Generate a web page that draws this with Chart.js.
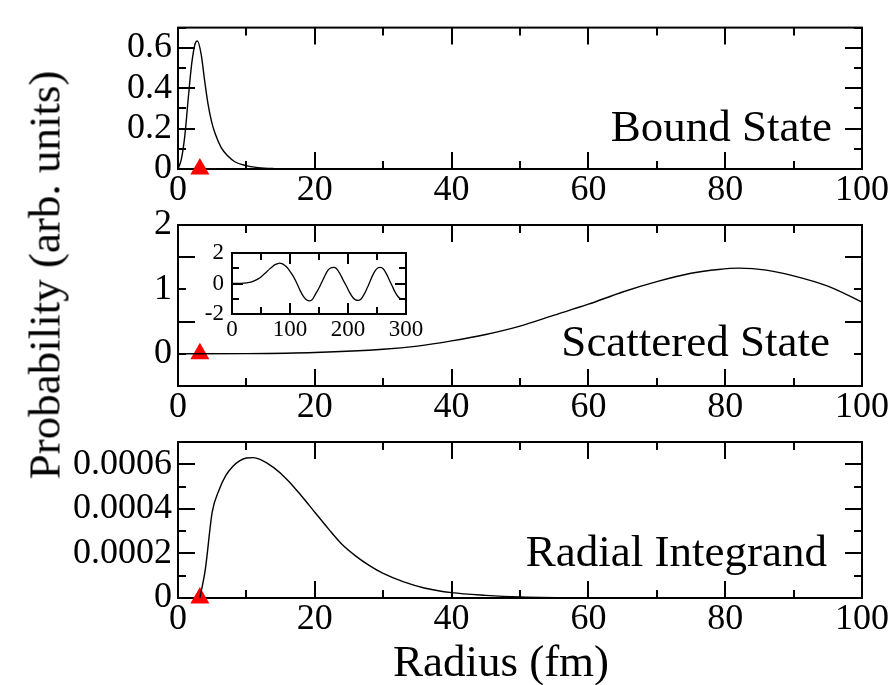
<!DOCTYPE html>
<html><head><meta charset="utf-8">
<script src="https://cdn.jsdelivr.net/npm/chart.js@4.4.1/dist/chart.umd.min.js"></script>
<style>
html,body{margin:0;padding:0;background:#fff;}
#wrap{position:relative;width:895px;height:685px;overflow:hidden;font-family:'Liberation Serif','Times New Roman',serif;color:#000;background:#fff;}
canvas{position:absolute;}
.lbl{position:absolute;font-size:45px;line-height:45px;white-space:nowrap;}
</style></head><body>
<div id="wrap">
<canvas id="c1" width="895" height="215" style="left:0;top:0"></canvas>
<canvas id="c2" width="895" height="245" style="left:0;top:185px"></canvas>
<canvas id="c3" width="895" height="285" style="left:0;top:400px"></canvas>
<canvas id="c4" width="250" height="120" style="left:180px;top:230px"></canvas>
<div class="lbl" style="right:63px;top:104px">Bound State</div>
<div class="lbl" style="right:65px;top:319px">Scattered State</div>
<div class="lbl" style="right:68px;top:529px">Radial Integrand</div>
<div class="lbl" style="left:501px;top:639px;transform:translateX(-50%)">Radius (fm)</div>
<div class="lbl" style="left:45px;top:275px;transform:translate(-50%,-50%) rotate(-90deg)">Probability (arb. units)</div>
</div>
<script>
// ---- data ----
const xTicks = [0, 20, 40, 60, 80, 100];
const boundYTicks = [0, 0.2, 0.4, 0.6];
const scatYTicks = [0, 1, 2];
const radYTicks = [0, 0.0002, 0.0004, 0.0006];
const insetXTicks = [0, 100, 200, 300];
const insetYTicks = [-2, 0, 2];

const boundR = [0, 0.5, 1, 1.5, 2, 2.5, 2.85, 3.4, 3.9, 4.4, 4.9, 5.4, 6.3, 7.3, 8.3, 9.8, 11.7, 14, 17, 20, 25, 100];
const boundP = [0, 0.05, 0.165, 0.35, 0.52, 0.62, 0.634, 0.565, 0.436, 0.32, 0.236, 0.178, 0.107, 0.064, 0.036, 0.018, 0.007, 0.002, 0.0005, 0, 0, 0];

const scatR = [0, 10, 20, 30, 35, 40, 45, 50, 55, 60, 65, 70, 75, 79, 82, 86, 90, 95, 100, 106, 112, 118, 124, 129, 134, 139, 144, 150, 155, 160, 165, 170, 175, 180, 186, 192, 197, 203, 208, 213, 218, 223, 228, 233, 237, 242, 247, 252, 256, 261, 266, 271, 276, 281, 286, 291, 295, 297];
const scatP = [0, 0.003, 0.02, 0.07, 0.12, 0.2, 0.3, 0.43, 0.6, 0.77, 0.96, 1.12, 1.25, 1.31, 1.33, 1.3, 1.21, 1.05, 0.8, 0.45, 0, -0.5, -0.9, -1.08, -1.14, -1.02, -0.7, -0.3, 0.1, 0.5, 0.85, 1.02, 1.06, 0.98, 0.65, 0.2, -0.15, -0.6, -0.9, -1.07, -1.1, -1.0, -0.7, -0.3, 0.05, 0.5, 0.85, 1.03, 1.06, 0.95, 0.65, 0.25, -0.15, -0.55, -0.85, -1.0, -1.03, -1.02];

const radR = [3.2, 4, 5, 6, 7, 8, 9, 10, 11, 12, 14, 16, 18, 20, 22, 24, 26, 28, 30, 33, 36, 40, 45, 50, 60, 80, 100];
const radP = [0, 0.00013, 0.000385, 0.000485, 0.00055, 0.00059, 0.000615, 0.000628, 0.00063, 0.000622, 0.000585, 0.00053, 0.00046, 0.000385, 0.00031, 0.00024, 0.000188, 0.000145, 0.00011, 0.000072, 0.000045, 0.000024, 0.000012, 0.000005, 0.000001, 0, 0];

const markerR = [3.2];
const markerP = [0];

// ---- helpers ----
const pts = (xs, ys) => xs.map((x, i) => ({x, y: ys[i]}));
const FONT = 'Liberation Serif';

const frameTicks = {
  id: 'frameTicks',
  beforeDatasetsDraw(chart, args, o) {
    const {ctx, chartArea: a, scales: {x, y}} = chart;
    ctx.save();
    ctx.strokeStyle = '#000';
    ctx.lineWidth = o.lw;
    ctx.beginPath();
    const range = (min, max, step) => { const r = []; for (let v = min; v <= max + step * 1e-6; v += step) r.push(v); return r; };
    const drawX = (vals, len) => vals.forEach(v => {
      const p = Math.round(x.getPixelForValue(v));
      ctx.moveTo(p, a.bottom); ctx.lineTo(p, a.bottom - len);
      ctx.moveTo(p, a.top); ctx.lineTo(p, a.top + len);
    });
    const drawY = (vals, len) => vals.forEach(v => {
      const p = Math.round(y.getPixelForValue(v));
      ctx.moveTo(a.left, p); ctx.lineTo(a.left + len, p);
      ctx.moveTo(a.right, p); ctx.lineTo(a.right - len, p);
    });
    drawX(range(x.min, x.max, o.xMinor), o.minorLen);
    drawX(range(x.min, x.max, o.xMajor), o.majorLen);
    drawY(range(y.min, y.max, o.yMinor), o.minorLen);
    drawY(range(y.min, y.max, o.yMajor), o.majorLen);
    ctx.stroke();
    ctx.strokeRect(a.left, a.top, a.right - a.left, a.bottom - a.top);
    ctx.restore();
  }
};

function makeChart(id, cfg) {
  const curveSets = cfg.curves.map(c => ({
    data: pts(c[0], c[1]), showLine: true, borderColor: '#000', borderWidth: cfg.lineW || 1.4,
    pointRadius: 0, cubicInterpolationMode: 'monotone', fill: false
  }));
  const sets = curveSets.slice();
  if (cfg.marker) sets.push({
    data: pts(markerR, markerP), pointStyle: 'triangle', pointRadius: 11, pointHoverRadius: 11,
    backgroundColor: '#ff0000', borderColor: '#ff0000', pointBorderWidth: 0, showLine: false, clip: false
  });
  return new Chart(document.getElementById(id), {
    type: 'scatter',
    data: {datasets: sets},
    plugins: [frameTicks],
    options: {
      responsive: false, animation: false, events: [],
      layout: {padding: cfg.padding},
      plugins: {legend: {display: false}, tooltip: {enabled: false},
        frameTicks: cfg.ticks},
      scales: {
        x: {type: 'linear', min: cfg.xMin, max: cfg.xMax,
          grid: {display: false, drawTicks: false}, border: {display: false},
          afterBuildTicks: s => { s.ticks = cfg.xTickVals.map(v => ({value: v})); },
          afterFit: s => { s.height = cfg.xH; },
          ticks: {color: '#000', padding: cfg.xPad, maxRotation: 0, autoSkip: false,
            font: {family: FONT, size: cfg.fs}, callback: v => String(v)}},
        y: {type: 'linear', min: cfg.yMin, max: cfg.yMax,
          grid: {display: false, drawTicks: false}, border: {display: false},
          afterBuildTicks: s => { s.ticks = cfg.yTickVals.map(v => ({value: v})); },
          afterFit: s => { s.width = cfg.yW; },
          ticks: {color: '#000', padding: cfg.yPad, autoSkip: false,
            font: {family: FONT, size: cfg.fs}, callback: cfg.yFmt || (v => String(v))}}
      }
    }
  });
}

const mainTicks = (yMajor, yMinor) => ({xMajor: 20, xMinor: 10, yMajor, yMinor, majorLen: 17, minorLen: 8, lw: 2});

makeChart('c1', {curves: [[boundR, boundP]], marker: true,
  padding: {left: 0, right: 33, top: 5, bottom: 0}, xH: 46, yW: 178, xPad: 0, yPad: 6, fs: 36,
  xMin: 0, xMax: 100, yMin: 0, yMax: 0.7, xTickVals: xTicks, yTickVals: boundYTicks,
  ticks: mainTicks(0.2, 0.1)});

makeChart('c2', {curves: [[scatR, scatP]], marker: true,
  padding: {left: 0, right: 33, top: 40, bottom: 0}, xH: 44, yW: 178, xPad: 0, yPad: 6, fs: 36,
  xMin: 0, xMax: 100, yMin: -0.5, yMax: 2, xTickVals: xTicks, yTickVals: scatYTicks,
  ticks: mainTicks(1, 0.5)});

makeChart('c3', {curves: [[radR, radP]], marker: true,
  padding: {left: 0, right: 33, top: 42, bottom: 0}, xH: 87, yW: 178, xPad: 0, yPad: 6, fs: 36,
  xMin: 0, xMax: 100, yMin: 0, yMax: 0.0007, xTickVals: xTicks, yTickVals: radYTicks,
  yFmt: v => v === 0 ? '0' : v.toFixed(4),
  ticks: mainTicks(0.0002, 0.0001)});

makeChart('c4', {curves: [[scatR, scatP]], marker: false, lineW: 1.3,
  padding: {left: 0, right: 24, top: 23, bottom: 0}, xH: 36, yW: 52, xPad: 2, yPad: 8, fs: 23,
  xMin: 0, xMax: 300, yMin: -2, yMax: 2, xTickVals: insetXTicks, yTickVals: insetYTicks,
  ticks: {xMajor: 100, xMinor: 50, yMajor: 2, yMinor: 1, majorLen: 11, minorLen: 7, lw: 2}});
</script>
</body></html>
